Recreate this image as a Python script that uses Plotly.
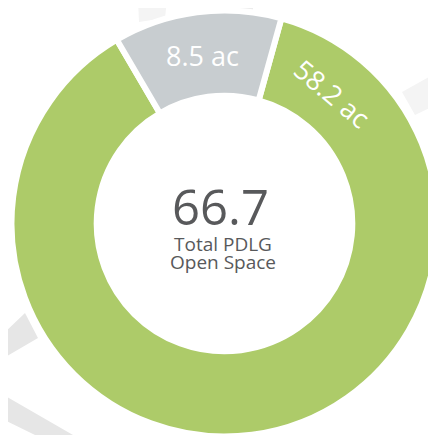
import math
import plotly.graph_objects as go

# open space breakdown (acres)
labels = ["Open space A", "Open space B"]
values = [58.2, 8.5]
slice_text = ["58.2 ac", "8.5 ac"]
colors = ["#adcb69", "#c8cdd0"]
total_value = "66.7"
total_caption = ["Total PDLG", "Open Space"]

W, H = 436, 435
OFF = 8  # the page body margin pushes the figure down/right
CX, CY, R = 224.5, 223.5, 213
R_LABEL = 169
ROTATION = 15.5


def to_paper(x, y):
    return (x - OFF) / W, 1 - (y - OFF) / H


def path(points):
    pts = [to_paper(x, y) for x, y in points]
    return "M " + " L ".join(f"{x:.4f},{y:.4f}" for x, y in pts) + " Z"


x0, y1 = to_paper(CX - R, CY - R)
x1, y0 = to_paper(CX + R, CY + R)

fig = go.Figure()
fig.add_trace(go.Pie(
    labels=labels,
    values=values,
    hole=0.6,
    sort=False,
    direction="clockwise",
    rotation=ROTATION,
    marker=dict(colors=colors, line=dict(color="white", width=6)),
    textinfo="none",
    hoverinfo="label+value",
    showlegend=False,
    domain=dict(x=[x0, x1], y=[y0, y1]),
))

# slice labels placed along the ring
total = sum(values)
green_ang = ROTATION + 24.2
gray_ang = ROTATION - values[1] / total * 360 / 2
annotations = []
for txt, ang, rot in [(slice_text[0], green_ang, 40), (slice_text[1], gray_ang, 0)]:
    a = math.radians(ang)
    px, py = to_paper(CX + R_LABEL * math.sin(a), CY - R_LABEL * math.cos(a))
    annotations.append(dict(x=px, y=py, xref="paper", yref="paper", text=txt,
                            xanchor="center", yanchor="middle",
                            showarrow=False, textangle=rot,
                            font=dict(family="Open Sans", size=27, color="white")))

cx, cy = to_paper(220, 206)
annotations.append(dict(x=cx, y=cy, xref="paper", yref="paper", text=total_value,
                        xanchor="center", yanchor="middle", showarrow=False,
                        font=dict(family="Open Sans", size=49, color="#58595b")))
for i, line in enumerate(total_caption):
    lx, ly = to_paper(223, 244 + i * 18)
    annotations.append(dict(x=lx, y=ly, xref="paper", yref="paper", text=line,
                            xanchor="center", yanchor="middle", showarrow=False,
                            font=dict(family="Open Sans", size=19, color="#58595b")))

# faint background rays
shapes = []
for pts, col in [
    ([(0, 337), (25, 313), (38, 338), (0, 360)], "#e6e6e6"),
    ([(0, 393), (73, 435), (35, 435), (0, 418)], "#e6e6e6"),
    ([(138, 0), (167, 0), (165, 18), (139, 22)], "#f4f4f4"),
    ([(224, 0), (253, 0), (253, 14), (224, 14)], "#ececec"),
    ([(402, 92), (436, 73), (436, 105), (415, 115)], "#f4f4f4"),
]:
    shapes.append(dict(type="path", path=path(pts), xref="paper", yref="paper",
                       fillcolor=col, line=dict(width=0), layer="below"))

fig.update_layout(
    width=W,
    height=H,
    margin=dict(l=0, r=0, t=0, b=0),
    paper_bgcolor="white",
    plot_bgcolor="white",
    annotations=annotations,
    shapes=shapes,
)

fig.write_html("out.html")
